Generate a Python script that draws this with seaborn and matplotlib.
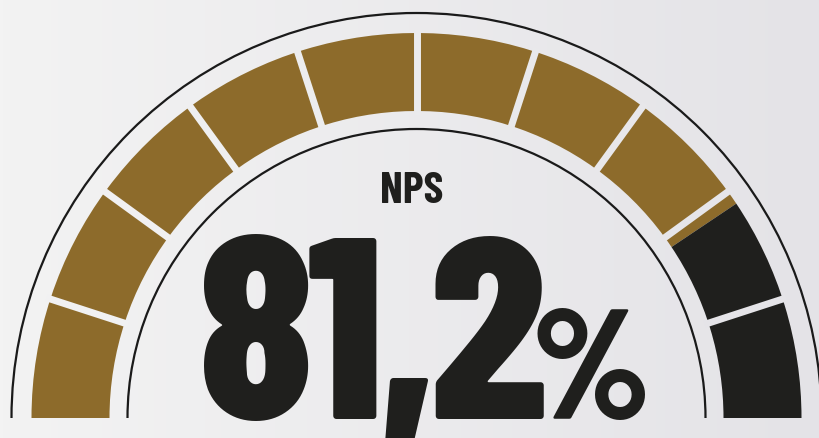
import numpy as np
import matplotlib
matplotlib.use("Agg")
import matplotlib.pyplot as plt
from matplotlib.colors import LinearSegmentedColormap
from matplotlib.patches import Wedge, Arc
import seaborn as sns

# gauge data
metric_label = "NPS"
nps_value = 81.2
scale_min = 0
scale_max = 100
segment_bounds = [0, 10, 20, 30, 40, 50, 60, 70, 80, 90, 100]

sns.set_style("white")
plt.rcParams['font.family'] = ['Barlow Condensed', 'DejaVu Sans']

pal = sns.color_palette(["#8D6B2B", "#1F1F1D"])
gold, dark = pal[0], pal[1]
bg_cmap = LinearSegmentedColormap.from_list("bg", ["#F3F3F3", "#E4E3E7"])
line_col = "#1A1A1A"

W, H = 819, 439
fig = plt.figure(figsize=(W / 100, H / 100), dpi=100)
ax = fig.add_axes([0, 0, 1, 1])
ax.set_xlim(0, W)
ax.set_ylim(0, H)
ax.axis('off')

# soft left-to-right background shade
ax.imshow(np.linspace(0, 1, 256)[None, :], extent=[0, W, 0, H], cmap=bg_cmap,
          aspect='auto', zorder=0)

cx, cy = 416.5, 20
r_in, r_out = 307, 385


def to_angle(v):
    # 0 on the left, 100 on the right
    return 180 - (v - scale_min) / (scale_max - scale_min) * 180


split = to_angle(nps_value)
ax.add_patch(Wedge((cx, cy), r_out, split, 180, width=r_out - r_in,
                   facecolor=gold, lw=0, zorder=2))
ax.add_patch(Wedge((cx, cy), r_out, 0, split, width=r_out - r_in,
                   facecolor=dark, lw=0, zorder=2))

# light gaps between the segments
for b in segment_bounds[1:-1]:
    t = np.deg2rad(to_angle(b))
    xs = [cx + (r_in - 4) * np.cos(t), cx + (r_out + 4) * np.cos(t)]
    ys = [cy + (r_in - 4) * np.sin(t), cy + (r_out + 4) * np.sin(t)]
    ax.plot(xs, ys, color=bg_cmap(np.mean(xs) / W), lw=5.0,
            solid_capstyle='butt', zorder=3)

# thin outline arcs
for r in (405, 289):
    ax.add_patch(Arc((cx, cy), 2 * r, 2 * r, theta1=0, theta2=180,
                     color=line_col, lw=1.6, zorder=3))

ax.text(412, 236, metric_label, ha='center', va='baseline',
        fontsize=32, fontweight=700, color=dark, zorder=4)

# big value, placed glyph by glyph for the tight tracking
value_txt = f"{nps_value:.1f}".replace(".", ",")
x_pos = [256, 345, 406, 488]
for ch, x in zip(value_txt, x_pos):
    ax.text(x, cy, ch, ha='center', va='baseline', fontsize=187,
            fontweight=800, color=dark, zorder=4)
ax.text(591, cy, "%", ha='center', va='baseline', fontsize=112,
        fontweight=800, color=dark, zorder=4)

fig.savefig("out.png", dpi=100)
